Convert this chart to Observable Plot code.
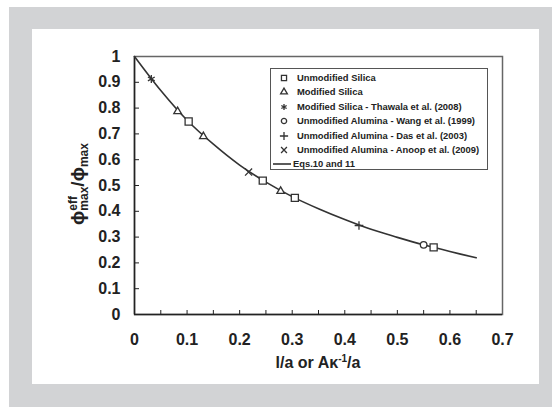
<!DOCTYPE html>
<html><head><meta charset="utf-8">
<script src="https://cdn.jsdelivr.net/npm/d3@7"></script>
<script src="https://cdn.jsdelivr.net/npm/@observablehq/plot@0.6"></script>
<style>
body{margin:0;background:#fff;font-family:"Liberation Sans",Arial,sans-serif;}
#wrap{position:relative;width:552px;height:407px;overflow:hidden}
#gray{position:absolute;left:9px;top:7px;width:543px;height:400px;background:#d2d3d5}
#panel{position:absolute;left:32px;top:29px;width:507px;height:355px;background:#fff}
#chart{position:absolute;left:0;top:0}
#xlabel{position:absolute;left:318px;top:355px;transform:translateX(-50%);font-size:16px;line-height:16px;font-weight:bold;color:#222;white-space:nowrap}
#xlabel sup{font-size:10px;vertical-align:6px;line-height:0}
#ylabel{position:absolute;left:81px;top:184px;transform:translate(-50%,-50%) rotate(-90deg);font-weight:bold;color:#222;white-space:nowrap;font-size:19px;line-height:19px}
.stack{display:inline-block;font-size:12px;line-height:11px;vertical-align:-4px;text-align:left}
.sub{font-size:12px;vertical-align:-4px}
#legend{position:absolute;left:270px;top:68px;width:216px;height:100px;border:1px solid #555;background:#fff}
.row{position:absolute;left:0;height:12px;font-size:9.4px;line-height:12px;font-weight:bold;color:#222;white-space:nowrap}
.row svg{position:absolute;top:0}
.row span{position:absolute;left:26px;top:0}
</style>
</head><body>
<div id="wrap">
  <div id="gray"></div>
  <div id="panel"></div>
  <div id="chart"></div>
  <div id="xlabel">l/a or Aκ<sup>-1</sup>/a</div>
  <div id="ylabel">ϕ<span class="stack">eff<br>max</span>/ϕ<span class="sub">max</span></div>
  <div id="legend"></div>
</div>
<script>
// Series data
const unmodSilicaX = [0.103, 0.244, 0.305, 0.569];
const unmodSilicaY = [0.748, 0.519, 0.452, 0.260];
const modSilicaX = [0.082, 0.131, 0.278];
const modSilicaY = [0.787, 0.690, 0.478];
const thawalaX = [0.032];
const thawalaY = [0.913];
const wangX = [0.550];
const wangY = [0.270];
const dasX = [0.427];
const dasY = [0.345];
const anoopX = [0.217];
const anoopY = [0.552];
const curveX = [0, 0.05, 0.10, 0.15, 0.20, 0.25, 0.30, 0.35, 0.40, 0.45, 0.50, 0.55, 0.60, 0.65];
const curveY = [1.0, 0.868, 0.753, 0.660, 0.579, 0.513, 0.457, 0.410, 0.368, 0.330, 0.299, 0.270, 0.244, 0.220];

const seriesNames = [
  "Unmodified Silica",
  "Modified Silica",
  "Modified Silica - Thawala et al. (2008)",
  "Unmodified Alumina - Wang et al. (1999)",
  "Unmodified Alumina - Das et al. (2003)",
  "Unmodified Alumina - Anoop et al. (2009)",
  "Eqs.10 and 11"
];
const seriesSymbols = ["square", "triangle", "asterisk", "circle", "plus", "times", "line"];

const xTickLabels = [0, 0.1, 0.2, 0.3, 0.4, 0.5, 0.6, 0.7];
const xTickMarks = [0.05, 0.1, 0.15, 0.2, 0.25, 0.3, 0.35, 0.4, 0.45, 0.5, 0.55, 0.6, 0.65];
const yTickLabels = [0, 0.1, 0.2, 0.3, 0.4, 0.5, 0.6, 0.7, 0.8, 0.9, 1];

const zip = (xs, ys) => xs.map((x, i) => ({x, y: ys[i]}));
const curve = zip(curveX, curveY);
const ink = "#333";
const fmt = d => String(+d.toFixed(2));

const dotOpts = (symbol, r) => ({x: "x", y: "y", symbol, r, stroke: ink, fill: "white", strokeWidth: 1.3});

const chart = Plot.plot({
  width: 552, height: 407,
  marginLeft: 134, marginRight: 50, marginTop: 56, marginBottom: 93,
  style: {background: "transparent", fontFamily: "'Liberation Sans', Arial, sans-serif", overflow: "visible"},
  x: {domain: [0, 0.7]},
  y: {domain: [0, 1]},
  marks: [
    Plot.frame({stroke: "#666", strokeWidth: 1.5}),
    Plot.ruleX([0], {stroke: "#222", strokeWidth: 1.5}),
    Plot.ruleY([0], {stroke: "#222", strokeWidth: 1.5}),
    Plot.line(curve, {x: "x", y: "y", curve: "catmull-rom", stroke: ink, strokeWidth: 1.6}),
    Plot.axisX({ticks: xTickMarks, tickSize: 4, dy: -4, tickFormat: () => "", label: null, stroke: "#222"}),
    Plot.axisY({ticks: yTickLabels.slice(1, -1), tickSize: 5, dx: 5, tickFormat: () => "", label: null, stroke: "#222"}),
    Plot.axisX({ticks: xTickLabels, tickSize: 0, tickPadding: 19, tickFormat: fmt, label: null, fontSize: 16, fontWeight: "bold", fill: "#222"}),
    Plot.axisY({ticks: yTickLabels, tickSize: 0, tickPadding: 14, tickFormat: fmt, label: null, fontSize: 16, fontWeight: "bold", fill: "#222"}),
    Plot.dot(zip(thawalaX, thawalaY), dotOpts("asterisk", 3.7)),
    Plot.dot(zip(anoopX, anoopY), dotOpts("times", 3.3)),
    Plot.dot(zip(dasX, dasY), dotOpts("plus", 2.9)),
    Plot.dot(zip(wangX, wangY), dotOpts("circle", 3.3)),
    Plot.dot(zip(modSilicaX, modSilicaY), dotOpts("triangle", 2.8)),
    Plot.dot(zip(unmodSilicaX, unmodSilicaY), dotOpts("square", 4.0))
  ]
});
document.getElementById("chart").appendChild(chart);

// Legend
const legend = d3.select("#legend");
const symMap = {square: d3.symbolSquare, triangle: d3.symbolTriangle, asterisk: d3.symbolAsterisk,
  circle: d3.symbolCircle, plus: d3.symbolPlus, times: d3.symbolTimes};
const symSize = {square: 26, triangle: 20, asterisk: 26, circle: 22, plus: 24, times: 24};
seriesNames.forEach((name, i) => {
  const row = legend.append("div").attr("class", "row").style("top", (3 + i * 14.4) + "px").style("width", "214px");
  const svg = row.append("svg").attr("width", 24).attr("height", 12).style("left", "0px");
  const s = seriesSymbols[i];
  if (s === "line") {
    svg.append("line").attr("x1", 2).attr("x2", 20).attr("y1", 6).attr("y2", 6).attr("stroke", ink).attr("stroke-width", 1.6);
    row.append("span").style("left", "22px").text(name);
  } else {
    svg.append("path").attr("transform", "translate(13,6)")
      .attr("d", d3.symbol(symMap[s], symSize[s])())
      .attr("fill", "white").attr("stroke", ink).attr("stroke-width", 1.3);
    row.append("span").text(name);
  }
});
</script>
</body></html>
